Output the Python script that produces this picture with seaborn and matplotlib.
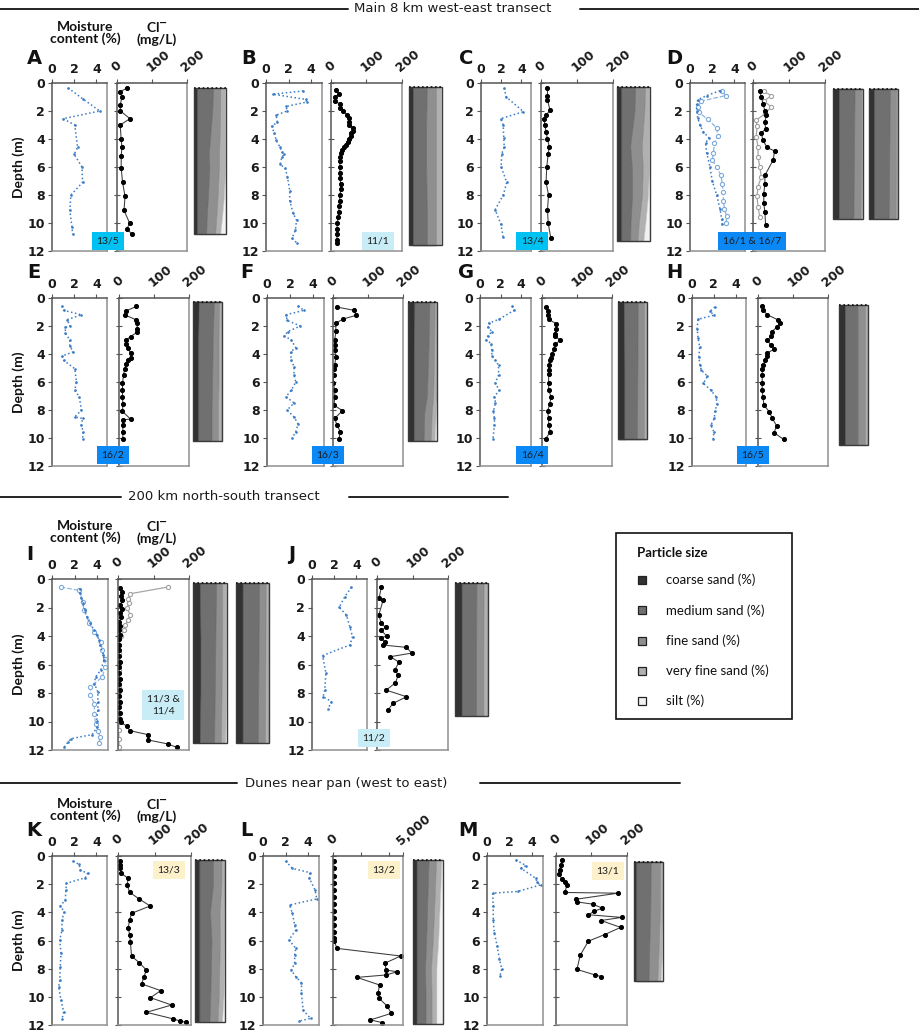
import numpy as np
import matplotlib
matplotlib.use("Agg")
import matplotlib.pyplot as plt
from matplotlib.patches import Rectangle
import seaborn as sns

sns.set_style("ticks")
plt.rcParams["font.family"] = ["DejaVu Sans"]

W, H = 920, 1033

# ------------------------------------------------------------------ data
DEPTH_TICKS = [0, 2, 4, 6, 8, 10, 12]
MOIST_TICKS = [0, 2, 4]
CL_TICKS = [0, 100, 200]
CL_TICKS_L = [0, 2000, 4000, 5000]
CL_TICKLABELS_L = ["0", "", "", "5,000"]

PSIZE_CLASSES = ["coarse sand (%)", "medium sand (%)", "fine sand (%)",
                 "very fine sand (%)", "silt (%)"]
PSIZE_COLORS = ["#323232", "#707070", "#8f8f8f", "#b0b0b0", "#f2f2f2"]
PSIZE_EDGES = ["#2a2a2a", "#5a5a5a", "#747474", "#939393", "#d0d0d0"]

# Panel A (13/5)
A_moist_depth = [0.35, 1.15, 2.0, 2.55, 3.0, 4.6, 5.1, 6.0, 7.1, 8.0, 9.1, 10.3, 10.8]
A_moist = [1.45, 2.8, 4.3, 1.0, 2.05, 2.3, 2.0, 2.7, 2.75, 1.7, 1.6, 1.8, 1.85]
A_cl_depth = [0.36, 0.64, 1.0, 1.6, 2.0, 2.55, 3.0, 4.0, 4.6, 5.2, 6.1, 7.1, 8.1, 9.1, 10.0, 10.4, 10.8]
A_cl = [29, 8, 14, 9, 10, 37, 9, 12, 14, 12, 12, 16, 23, 20, 36, 29, 42]
A_ps_depth = [0.35, 2, 4, 5, 6, 8, 9.5, 10.8]
A_ps = [[10, 50, 22, 15, 3], [10, 47, 25, 15, 3], [10, 40, 30, 17, 3], [10, 36, 32, 19, 3],
        [10, 38, 30, 19, 3], [10, 34, 30, 20, 6], [10, 30, 30, 18, 12], [10, 28, 28, 16, 18]]

# Panel B (11/1)
B_moist_depth = [0.57, 0.8, 1.17, 1.36, 1.67, 2.0, 2.3, 2.8, 3.1, 3.6, 4.1, 4.6, 4.9, 5.1, 5.3,
                 5.8, 6.1, 6.7, 7.7, 8.4, 9.3, 9.8, 10.5, 11.1, 11.4]
B_moist = [3.3, 0.6, 3.5, 3.6, 1.8, 1.85, 0.9, 1.0, 0.5, 0.75, 0.9, 1.25, 1.4, 1.6, 1.4,
           1.25, 1.7, 1.9, 2.1, 2.1, 2.4, 2.7, 2.6, 2.3, 2.7]
B_cl_depth = [0.5, 0.75, 1.0, 1.3, 1.5, 1.8, 2.0, 2.3, 2.5, 2.8, 3.0, 3.2, 3.4, 3.6, 3.8, 4.0,
              4.2, 4.4, 4.6, 4.8, 5.0, 5.3, 5.6, 6.0, 6.4, 6.8, 7.2, 7.6, 8.0, 8.4, 8.8, 9.2,
              9.6, 10.0, 10.4, 10.8, 11.2, 11.4]
B_cl = [13, 22, 12, 11, 26, 24, 33, 45, 50, 52, 52, 62, 62, 55, 55, 50, 48, 42, 36, 30, 28, 26,
        25, 25, 25, 26, 27, 27, 26, 24, 23, 22, 20, 18, 17, 17, 17, 17]
B_ps_depth = [0.3, 3, 6, 9, 11.6]
B_ps = [[12, 42, 28, 15, 3], [12, 40, 30, 15, 3], [12, 40, 30, 15, 3], [12, 42, 28, 15, 3],
        [12, 42, 28, 15, 3]]

# Panel C (13/4)
C_moist_depth = [0.36, 1.0, 2.05, 2.55, 3.0, 3.9, 4.6, 5.05, 6.0, 7.1, 8.0, 9.05, 10.05, 11.0]
C_moist = [2.3, 2.5, 4.2, 1.95, 2.2, 2.25, 2.3, 2.05, 2.0, 2.55, 2.2, 1.4, 1.95, 2.2]
C_cl_depth = [0.36, 0.9, 1.2, 1.95, 2.3, 2.55, 3.0, 3.5, 4.0, 4.55, 5.05, 6.0, 7.1, 8.0, 9.05, 10.0, 11.05]
C_cl = [18, 18, 18, 25, 14, 8, 11, 14, 18, 23, 20, 16, 14, 21, 18, 20, 27]
C_ps_depth = [0.3, 2, 4.5, 6, 8, 10, 11.3]
C_ps = [[13, 42, 30, 13, 2], [13, 40, 30, 15, 2], [13, 27, 35, 22, 3], [13, 32, 33, 19, 3],
        [13, 33, 30, 18, 6], [13, 28, 25, 20, 14], [13, 27, 22, 18, 20]]

# Panel D (16/1 & 16/7)
D_moist1_depth = [0.55, 0.9, 1.2, 1.5, 2.0, 2.5, 3.0, 3.5, 3.9, 4.3, 5.0, 6.0, 7.0, 8.0, 9.0, 9.7, 10.1]
D_moist1 = [2.7, 1.5, 0.7, 0.6, 0.6, 0.7, 0.9, 1.2, 1.7, 1.4, 1.5, 1.8, 2.0, 2.4, 2.7, 2.85, 2.9]
D_moist2_depth = [0.6, 0.9, 1.3, 1.7, 2.1, 2.6, 3.2, 3.8, 4.3, 5.0, 5.5, 6.0, 6.6, 7.2, 7.8, 8.4,
                  9.0, 9.5, 10.0]
D_moist2 = [2.9, 3.2, 1.0, 0.7, 0.8, 1.6, 2.4, 2.5, 2.2, 2.1, 2.0, 2.4, 2.8, 2.9, 3.0, 3.0, 3.1, 3.3, 3.25]
D_cl1_depth = [0.57, 1.0, 1.5, 2.0, 2.3, 2.8, 3.25, 3.6, 4.1, 4.6, 4.86, 5.5, 6.6, 7.2, 7.9, 8.6, 9.2, 10.15]
D_cl1 = [19, 23, 28, 33, 37, 33, 35, 23, 28, 39, 60, 56, 33, 33, 30, 30, 33, 35]
D_cl2_depth = [0.6, 0.9, 1.3, 1.7, 2.2, 2.65, 3.1, 3.85, 4.6, 5.3, 6.0, 6.7, 7.4, 8.1, 8.85, 9.6]
D_cl2 = [30, 51, 30, 51, 33, 9, 11, 9, 14, 14, 19, 23, 14, 11, 14, 19]
D1_ps_depth = [0.4, 5, 9.7]
D1_ps = [[20, 52, 22, 5, 1], [20, 50, 24, 5, 1], [20, 48, 24, 6, 2]]
D2_ps_depth = [0.4, 5, 9.7]
D2_ps = [[18, 54, 22, 5, 1], [18, 52, 23, 6, 1], [18, 50, 24, 7, 1]]

# Panel E (16/2)
E_moist_depth = [0.57, 0.88, 1.2, 1.55, 2.0, 2.1, 2.5, 3.0, 3.4, 3.85, 4.15, 4.45, 5.05, 6.0, 6.6,
                 7.05, 8.0, 8.5, 8.6, 9.05, 9.55, 10.1]
E_moist = [0.9, 1.05, 2.65, 1.35, 1.65, 1.2, 1.2, 1.6, 1.6, 1.9, 0.9, 1.05, 2.05, 2.2, 2.05,
           2.45, 2.65, 2.05, 2.75, 2.65, 2.8, 2.75]
E_cl_depth = [0.6, 0.93, 1.2, 1.55, 1.8, 2.2, 2.45, 2.75, 3.0, 3.3, 3.6, 3.95, 4.25, 4.45, 4.7,
              5.1, 5.5, 6.1, 6.6, 7.05, 7.55, 8.1, 8.65, 8.7, 9.1, 9.6, 10.1]
E_cl = [50, 19, 16, 48, 52, 52, 52, 33, 21, 19, 26, 33, 33, 26, 21, 16, 13, 10, 10, 10, 11, 10,
        33, 11, 11, 11, 11]
E_ps_depth = [0.25, 3, 6, 8, 10.2]
E_ps = [[20, 52, 18, 9, 1], [18, 50, 20, 11, 1], [18, 48, 22, 11, 1], [18, 46, 22, 13, 1],
        [18, 46, 22, 13, 1]]

# Panel F (16/3)
F_moist_depth = [0.57, 0.88, 1.2, 1.6, 2.0, 2.4, 2.7, 3.0, 3.55, 3.85, 4.45, 4.9, 5.5, 6.0, 6.6,
                 7.05, 7.5, 8.0, 8.5, 9.0, 9.55, 10.0]
F_moist = [2.7, 3.2, 1.65, 1.75, 2.9, 1.8, 1.5, 2.1, 2.5, 2.05, 2.1, 2.35, 2.35, 2.5, 2.1, 1.65,
           2.35, 1.75, 2.35, 2.7, 2.5, 2.2]
F_cl_depth = [0.64, 0.88, 1.23, 1.5, 1.8, 2.37, 3.0, 3.37, 3.73, 4.2, 4.8, 5.1, 5.5, 6.1, 6.6,
              7.05, 7.65, 8.05, 8.6, 9.07, 9.55, 10.07]
F_cl = [10, 60, 67, 29, 8, 8, 5, 5, 5, 8, 5, 2, 2, 1, 5, 5, 3, 27, 5, 11, 21, 17]
F_ps_depth = [0.3, 4, 7, 8.2, 10.2]
F_ps = [[22, 52, 18, 7, 1], [20, 50, 20, 9, 1], [20, 45, 22, 12, 1], [20, 36, 26, 14, 4],
        [20, 34, 24, 14, 8]]

# Panel G (16/4)
G_moist_depth = [0.57, 0.88, 1.52, 1.8, 2.1, 2.4, 2.7, 3.0, 3.25, 3.73, 4.15, 4.45, 4.8, 5.5,
                 6.05, 6.6, 7.05, 7.5, 8.1, 8.6, 9.07, 10.1]
G_moist = [3.15, 3.3, 1.85, 0.85, 0.77, 1.15, 0.77, 0.6, 1.08, 1.15, 1.15, 1.5, 1.8, 1.8, 1.5,
           1.85, 1.4, 1.5, 1.3, 1.4, 1.4, 1.25]
G_cl_depth = [0.64, 0.93, 1.23, 1.52, 1.83, 2.18, 2.54, 2.73, 3.02, 3.3, 3.61, 3.97, 4.25, 4.44,
              4.8, 5.15, 5.44, 6.1, 6.58, 7.05, 7.58, 8.08, 8.6, 9.07, 9.55, 10.07]
G_cl = [10, 16, 16, 19, 40, 41, 38, 38, 52, 38, 35, 29, 26, 22, 19, 19, 19, 19, 19, 26, 22, 16,
        19, 19, 24, 10]
G_ps_depth = [0.3, 5, 10.1]
G_ps = [[20, 48, 22, 9, 1], [22, 45, 23, 9, 1], [22, 43, 24, 10, 1]]

# Panel H (16/5)
H_moist_depth = [0.64, 0.95, 1.23, 1.52, 2.18, 2.83, 3.49, 4.2, 4.8, 5.15, 5.58, 6.1, 6.58, 7.05,
                 7.58, 8.08, 8.6, 9.07, 9.55, 10.07]
H_moist = [2.1, 1.67, 2.0, 0.55, 0.47, 0.55, 0.7, 0.63, 0.73, 0.85, 1.42, 1.04, 1.73, 2.2, 2.3,
           2.1, 2.05, 1.73, 2.0, 1.95]
H_cl_depth = [0.6, 0.88, 1.2, 1.55, 1.8, 2.1, 2.42, 2.73, 3.02, 3.37, 3.66, 3.92, 4.16, 4.44, 4.8,
              5.1, 5.5, 6.1, 6.58, 7.05, 7.65, 8.12, 8.6, 9.12, 9.62, 10.1]
H_cl = [11, 14, 27, 56, 62, 53, 39, 37, 27, 37, 46, 27, 27, 20, 15, 12, 12, 12, 12, 14, 17, 32,
        41, 53, 46, 73]
H_ps_depth = [0.5, 5, 10.5]
H_ps = [[20, 44, 26, 9, 1], [20, 44, 26, 9, 1], [20, 44, 25, 10, 1]]

# Panel I (11/3 & 11/4)
I_moist1_depth = [0.68, 0.99, 1.34, 1.7, 2.16, 2.64, 3.1, 3.58, 3.93, 4.28, 4.64, 5.34, 5.7, 6.4,
                  6.87, 7.34, 7.93, 8.64, 9.22, 9.93, 10.4, 10.92, 11.2, 11.46, 11.81]
I_moist1 = [2.5, 2.45, 2.6, 2.7, 2.9, 3.1, 3.4, 3.7, 4.0, 4.15, 4.25, 4.55, 4.6, 4.3, 3.85, 3.75,
            4.05, 4.05, 4.05, 3.95, 4.0, 3.55, 1.7, 1.4, 1.08]
I_moist2_depth = [0.56, 0.8, 1.58, 2.16, 3.1, 3.7, 4.4, 5.0, 5.58, 6.16, 6.87, 7.58, 8.16, 8.75,
                  9.46, 10.16, 10.64, 11.1, 11.53]
I_moist2 = [0.77, 2.4, 2.75, 2.8, 3.3, 3.7, 4.3, 4.45, 4.7, 4.7, 4.45, 3.4, 3.4, 3.75, 3.75, 3.85,
            4.05, 4.25, 4.15]
I_cl1_depth = [0.6, 0.9, 1.2, 1.5, 1.8, 2.1, 2.4, 2.7, 3.0, 3.3, 3.6, 3.9, 4.2, 4.6, 5.0, 5.4, 5.8,
               6.2, 6.6, 7.0, 7.4, 7.8, 8.2, 8.6, 9.0, 9.4, 9.8, 10.05, 10.33, 10.64, 10.92, 11.29,
               11.58, 11.81]
I_cl1 = [6, 10, 8, 12, 7, 10, 5, 8, 4, 6, 3, 5, 3, 4, 3, 4, 5, 3, 4, 5, 4, 6, 4, 5, 4, 5, 6, 8, 25,
         33, 84, 84, 141, 165]
I_cl2_depth = [0.56, 1.04, 1.4, 1.7, 2.05, 2.52, 2.9, 3.22, 3.58, 4.0, 4.6, 5.2, 5.8, 6.4, 7.0,
               7.6, 8.2, 8.8, 9.4, 10.0, 10.6, 11.2, 11.8]
I_cl2 = [141, 33, 28, 31, 25, 35, 28, 21, 18, 8, 4, 3, 3, 2, 3, 2, 3, 2, 3, 3, 2, 3, 3]
I1_ps_depth = [0.3, 4, 8, 11.5]
I1_ps = [[20, 48, 18, 12, 2], [22, 44, 20, 12, 2], [22, 42, 20, 13, 3], [20, 42, 20, 13, 5]]
I2_ps_depth = [0.3, 6, 11.5]
I2_ps = [[20, 50, 20, 9, 1], [20, 48, 21, 10, 1], [20, 46, 22, 11, 1]]

# Panel J (11/2)
J_moist_depth = [0.58, 1.24, 1.99, 2.53, 3.35, 4.05, 4.63, 5.38, 6.6, 7.8, 8.26, 8.6, 9.1]
J_moist = [3.55, 2.95, 2.45, 3.1, 3.4, 3.65, 3.4, 0.95, 1.25, 1.15, 1.0, 1.75, 1.45]
J_cl_depth = [0.58, 1.35, 1.5, 2.53, 3.1, 3.4, 3.6, 4.0, 4.12, 4.4, 4.63, 4.8, 5.2, 5.45, 5.84,
              6.38, 6.74, 7.28, 7.8, 8.26, 8.73, 9.2]
J_cl = [12, 6, 17, 5, 12, 24, 12, 27, 12, 22, 16, 83, 98, 38, 62, 50, 60, 52, 26, 83, 45, 31]
J_ps_depth = [0.3, 5, 9.6]
J_ps = [[20, 45, 22, 12, 1], [20, 44, 22, 13, 1], [20, 44, 22, 13, 1]]

# Panel K (13/3)
K_moist_depth = [0.36, 0.6, 1.0, 1.23, 1.54, 1.94, 2.41, 3.12, 3.55, 3.95, 4.54, 5.25, 5.96, 6.9,
                 7.86, 8.8, 9.28, 10.2, 11.05, 11.6]
K_moist = [1.9, 2.45, 2.55, 3.2, 3.0, 1.3, 1.25, 1.2, 0.75, 1.1, 0.9, 0.9, 0.7, 0.8, 0.75, 0.7,
           0.6, 0.8, 1.05, 0.9]
K_cl_depth = [0.36, 0.64, 0.88, 1.23, 1.59, 2.06, 2.58, 3.05, 3.55, 4.07, 4.54, 5.09, 5.6, 6.08,
              7.1, 7.57, 8.1, 8.57, 9.08, 9.56, 10.06, 10.58, 11.1, 11.57, 11.72, 11.81]
K_cl = [6, 6, 5, 9, 28, 25, 32, 58, 88, 37, 32, 28, 32, 34, 37, 58, 78, 71, 65, 117, 89, 147, 78,
        152, 170, 187]
K_ps_depth = [0.3, 2, 4, 6, 8, 10, 11.8]
K_ps = [[15, 45, 28, 11, 1], [15, 45, 28, 11, 1], [15, 35, 32, 16, 2], [15, 40, 28, 15, 2],
        [15, 38, 28, 16, 3], [15, 36, 28, 16, 5], [15, 33, 27, 15, 10]]

# Panel L (13/2)
L_moist_depth = [0.36, 0.88, 1.18, 1.59, 2.41, 3.05, 3.48, 4.07, 4.9, 5.25, 5.96, 6.56, 7.03, 7.62,
                 8.1, 8.57, 9.0, 9.75, 10.94, 11.53, 11.72]
L_moist = [2.0, 2.6, 4.15, 4.1, 4.6, 4.75, 2.35, 2.6, 2.8, 2.9, 2.3, 2.9, 2.8, 2.8, 2.5, 2.9, 3.4,
           3.4, 3.55, 4.2, 3.2]
L_cl_depth = [0.36, 0.88, 1.4, 1.9, 2.4, 2.9, 3.4, 3.9, 4.4, 4.9, 5.4, 5.8, 6.0, 6.56, 7.1, 7.62,
              8.1, 8.22, 8.45, 8.62, 9.16, 9.75, 10.1, 10.65, 11.17, 11.64, 11.83]
L_cl = [60, 60, 55, 60, 60, 55, 60, 60, 60, 65, 70, 70, 60, 290, 4830, 3690, 3810, 4600, 3760,
        1710, 3330, 3210, 3290, 3860, 4170, 2670, 3520]
L_ps_depth = [0.3, 3, 6, 8, 10, 11.9]
L_ps = [[12, 40, 25, 18, 5], [12, 36, 24, 18, 10], [12, 32, 22, 18, 16], [12, 28, 20, 18, 22],
        [12, 30, 20, 16, 22], [12, 30, 20, 16, 22]]

# Panel M (13/1)
M_moist_depth = [0.28, 0.68, 0.87, 1.58, 1.88, 2.05, 2.52, 2.64, 3.58, 4.52, 5.46, 6.4, 7.34, 8.0, 8.52]
M_moist = [2.55, 3.45, 3.0, 4.3, 4.45, 4.75, 2.7, 0.5, 0.55, 0.55, 0.65, 0.9, 1.1, 1.3, 1.15]
M_cl_depth = [0.28, 0.64, 0.99, 1.27, 1.62, 1.88, 2.05, 2.59, 2.64, 3.07, 3.26, 3.42, 3.7, 3.94,
              4.17, 4.36, 4.58, 5.07, 5.58, 6.05, 7.06, 8.05, 8.45, 8.56]
M_cl = [16, 14, 10, 9, 16, 24, 31, 25, 174, 57, 59, 104, 130, 107, 91, 185, 127, 182, 137, 91, 68,
        59, 110, 128]
M_ps_depth = [0.4, 4, 7, 8.9]
M_ps = [[8, 50, 32, 9, 1], [8, 48, 33, 10, 1], [8, 44, 32, 12, 4], [8, 42, 30, 12, 8]]

# ------------------------------------------------------------------ styles
MOIST_STYLE = {
    "p": dict(color="#3b7cc4", linestyle=":", linewidth=1.1, marker="o", markersize=1.9,
              markeredgewidth=0),
    "s": dict(color="#8db6e2", linestyle="--", linewidth=0.9, marker="o", markersize=3.0,
              markerfacecolor="white", markeredgecolor="#7eaadb", markeredgewidth=0.8),
}
CL_STYLE = {
    "p": dict(color="#3a3a3a", linestyle="-", linewidth=0.75, marker="o", markersize=2.9,
              markerfacecolor="black", markeredgecolor="black"),
    "s": dict(color="#a6a6a6", linestyle="-", linewidth=0.9, marker="o", markersize=3.0,
              markerfacecolor="white", markeredgecolor="#a0a0a0", markeredgewidth=0.8),
}
TICK_FONT = dict(fontsize=9, fontweight="bold", family="DejaVu Sans", color="#1a1a1a")

fig = plt.figure(figsize=(W / 100, H / 100), dpi=100)


def px_axes(x0, x1, y0, y1):
    return fig.add_axes([x0 / W, 1 - y1 / H, (x1 - x0) / W, (y1 - y0) / H])


def frame(ax):
    for s in ["left", "top"]:
        ax.spines[s].set_color("#555555")
    for s in ["right", "bottom"]:
        ax.spines[s].set_color("#909090")
    for s in ax.spines.values():
        s.set_visible(True)
        s.set_linewidth(1.1)


def draw_moist(ax, series):
    for depth, vals, kind in series:
        sns.lineplot(x=vals, y=depth, sort=False, estimator=None, ax=ax, **MOIST_STYLE[kind])
    ax.set_xlim(0, 4.95)
    ax.set_ylim(12, 0)
    ax.xaxis.tick_top()
    ax.set_xticks(MOIST_TICKS)
    ax.set_xticklabels([str(t) for t in MOIST_TICKS], **TICK_FONT)
    ax.set_yticks(DEPTH_TICKS)
    ax.set_yticklabels([str(t) for t in DEPTH_TICKS], **TICK_FONT)
    ax.tick_params(axis="x", direction="out", length=3, pad=2, top=True, bottom=False,
                   color="#555555")
    ax.tick_params(axis="y", direction="out", length=3, pad=2, left=True, color="#555555")
    ax.set_xlabel("")
    ax.set_ylabel("")
    frame(ax)


def draw_cl(ax, series, xmax=200, ticks=CL_TICKS, labels=None):
    for depth, vals, kind in series:
        sns.lineplot(x=vals, y=depth, sort=False, estimator=None, ax=ax, **CL_STYLE[kind])
    ax.set_xlim(0, xmax)
    ax.set_ylim(12, 0)
    ax.xaxis.tick_top()
    ax.set_xticks(ticks)
    if labels is None:
        labels = [str(t) for t in ticks]
    ax.set_xticklabels(labels, rotation=40, ha="left", va="bottom", rotation_mode="anchor",
                       **TICK_FONT)
    ax.set_yticks(DEPTH_TICKS)
    ax.set_yticklabels([])
    ax.tick_params(axis="x", direction="out", length=3, pad=3, top=True, bottom=False,
                   color="#555555")
    ax.tick_params(axis="y", direction="inout", length=5, left=True, color="#555555")
    ax.set_xlabel("")
    ax.set_ylabel("")
    frame(ax)


def draw_strip(ax, depth, rows):
    arr = np.array(rows, float)
    arr = arr / arr.sum(axis=1, keepdims=True) * 100
    cum = np.cumsum(arr, axis=1)
    left = np.zeros(len(depth))
    for k in range(len(PSIZE_CLASSES)):
        ax.fill_betweenx(depth, left, cum[:, k], facecolor=PSIZE_COLORS[k],
                         edgecolor=PSIZE_EDGES[k], linewidth=0.5)
        left = cum[:, k]
    ax.set_xlim(0, 100)
    ax.set_ylim(12, 0)
    ax.axis("off")
    ax.add_patch(Rectangle((0, depth[0]), 100, depth[-1] - depth[0], fill=False,
                           edgecolor="#3a3a3a", linewidth=1.0, clip_on=False))
    ax.plot([0, 100], [depth[0], depth[0]], color="#111111", linewidth=1.2,
            linestyle=(0, (1, 1.6)), clip_on=False)


# ------------------------------------------------------------------ panels (layout in px)
ROW1, ROW2, ROW3, ROW4 = (83, 251), (298, 466), (579, 750), (856, 1025)

panels = [
    dict(row=ROW1, m=(52, 107), c=(117, 187),
         moist=[(A_moist_depth, A_moist, "p")], cl=[(A_cl_depth, A_cl, "p")],
         strips=[((194, 226), A_ps_depth, A_ps)]),
    dict(row=ROW1, m=(266, 322), c=(331, 402),
         moist=[(B_moist_depth, B_moist, "p")], cl=[(B_cl_depth, B_cl, "p")],
         strips=[((409, 442), B_ps_depth, B_ps)]),
    dict(row=ROW1, m=(481, 531), c=(541, 613),
         moist=[(C_moist_depth, C_moist, "p")], cl=[(C_cl_depth, C_cl, "p")],
         strips=[((617, 650), C_ps_depth, C_ps)]),
    dict(row=ROW1, m=(690, 745), c=(753, 825),
         moist=[(D_moist2_depth, D_moist2, "s"), (D_moist1_depth, D_moist1, "p")],
         cl=[(D_cl2_depth, D_cl2, "s"), (D_cl1_depth, D_cl1, "p")],
         strips=[((833, 863), D1_ps_depth, D1_ps), ((869, 898), D2_ps_depth, D2_ps)]),
    dict(row=ROW2, m=(52, 107), c=(119, 189),
         moist=[(E_moist_depth, E_moist, "p")], cl=[(E_cl_depth, E_cl, "p")],
         strips=[((193, 222), E_ps_depth, E_ps)]),
    dict(row=ROW2, m=(267, 324), c=(333, 403),
         moist=[(F_moist_depth, F_moist, "p")], cl=[(F_cl_depth, F_cl, "p")],
         strips=[((408, 437), F_ps_depth, F_ps)]),
    dict(row=ROW2, m=(480, 531), c=(542, 612),
         moist=[(G_moist_depth, G_moist, "p")], cl=[(G_cl_depth, G_cl, "p")],
         strips=[((618, 647), G_ps_depth, G_ps)]),
    dict(row=ROW2, m=(692, 746), c=(758, 828),
         moist=[(H_moist_depth, H_moist, "p")], cl=[(H_cl_depth, H_cl, "p")],
         strips=[((839, 868), H_ps_depth, H_ps)]),
    dict(row=ROW3, m=(52, 108), c=(118, 189),
         moist=[(I_moist2_depth, I_moist2, "s"), (I_moist1_depth, I_moist1, "p")],
         cl=[(I_cl2_depth, I_cl2, "s"), (I_cl1_depth, I_cl1, "p")],
         strips=[((193, 227), I1_ps_depth, I1_ps), ((236, 269), I2_ps_depth, I2_ps)]),
    dict(row=ROW3, m=(312, 367), c=(377, 448),
         moist=[(J_moist_depth, J_moist, "p")], cl=[(J_cl_depth, J_cl, "p")],
         strips=[((455, 488), J_ps_depth, J_ps)]),
    dict(row=ROW4, m=(52, 107), c=(118, 191),
         moist=[(K_moist_depth, K_moist, "p")], cl=[(K_cl_depth, K_cl, "p")],
         strips=[((195, 225), K_ps_depth, K_ps)]),
    dict(row=ROW4, m=(263, 319), c=(333, 403),
         moist=[(L_moist_depth, L_moist, "p")], cl=[(L_cl_depth, L_cl, "p")],
         strips=[((413, 443), L_ps_depth, L_ps)], xmax=5000, ticks=CL_TICKS_L,
         labels=CL_TICKLABELS_L),
    dict(row=ROW4, m=(487, 543), c=(556, 627),
         moist=[(M_moist_depth, M_moist, "p")], cl=[(M_cl_depth, M_cl, "p")],
         strips=[((634, 663), M_ps_depth, M_ps)]),
]

for p in panels:
    y0, y1 = p["row"]
    axm = px_axes(p["m"][0], p["m"][1], y0, y1)
    draw_moist(axm, p["moist"])
    axc = px_axes(p["c"][0], p["c"][1], y0, y1)
    draw_cl(axc, p["cl"], p.get("xmax", 200), p.get("ticks", CL_TICKS), p.get("labels"))
    for (sx0, sx1), sd, sr in p["strips"]:
        axs = px_axes(sx0, sx1, y0, y1)
        draw_strip(axs, sd, sr)

# ------------------------------------------------------------------ annotation overlay
ov = fig.add_axes([0, 0, 1, 1])
ov.set_xlim(0, W)
ov.set_ylim(H, 0)
ov.axis("off")
ov.patch.set_alpha(0)

LINE_KW = dict(color="#222222", linewidth=1.4)
SEC_FONT = dict(fontsize=9.5, family="DejaVu Sans", color="#1a1a1a", va="center", ha="left")
ov.plot([0, 348], [9, 9], **LINE_KW)
ov.plot([580, 920], [9, 9], **LINE_KW)
ov.text(354, 9, "Main 8 km west-east transect", **SEC_FONT)
ov.plot([0, 121], [497, 497], **LINE_KW)
ov.plot([349, 508], [497, 497], **LINE_KW)
ov.text(128, 497, "200 km north-south transect", **SEC_FONT)
ov.plot([0, 237], [783, 783], **LINE_KW)
ov.plot([480, 680], [783, 783], **LINE_KW)
ov.text(245, 783, "Dunes near pan (west to east)", **SEC_FONT)

HEAD_FONT = dict(fontsize=10, family="Lato", fontweight="bold", ha="center", va="center",
                 linespacing=1.0, color="#111111")
for hy in (33, 532, 810):
    ov.text(85, hy, "Moisture\ncontent (%)", **HEAD_FONT)
    ov.text(157, hy, "Cl$^{\\mathbf{-}}$\n(mg/L)", **HEAD_FONT)

for dy in (167, 382, 664, 940):
    ov.text(19, dy, "Depth (m)", rotation=90, **HEAD_FONT)

LETTER_FONT = dict(fontsize=14, family="DejaVu Sans", fontweight="bold", ha="center",
                   va="center", color="#111111")
letters = [("A", 34, 59), ("B", 249, 59), ("C", 466, 59), ("D", 674, 59),
           ("E", 34, 272), ("F", 247, 272), ("G", 466, 272), ("H", 674, 272),
           ("I", 30, 555), ("J", 292, 555), ("K", 34, 830), ("L", 246, 830), ("M", 468, 830)]
for t, x, y in letters:
    ov.text(x, y, t, **LETTER_FONT)

TAG_FONT = dict(fontsize=7.5, family="Lato", ha="center", va="center", color="#1a1a1a",
                linespacing=1.4)
CYAN, PALE, BLUE, YELLOW = "#00c2f2", "#c9edf6", "#0a88f5", "#fdf1cc"
tags = [("13/5", 108, 241, CYAN), ("11/1", 378, 241, PALE), ("13/4", 532, 241, CYAN),
        ("16/1 & 16/7", 752, 241, BLUE), ("16/2", 113, 455, BLUE), ("16/3", 328, 455, BLUE),
        ("16/4", 532, 455, BLUE), ("16/5", 753, 455, BLUE), ("11/3 &\n11/4", 163, 705, PALE),
        ("11/2", 374, 738, PALE), ("13/3", 169, 870, YELLOW), ("13/2", 384, 870, YELLOW),
        ("13/1", 608, 871, YELLOW)]
for t, x, y, c in tags:
    ov.text(x, y, t, bbox=dict(boxstyle="square,pad=0.45", facecolor=c, edgecolor="none"),
            zorder=5, **TAG_FONT)

# legend box
ov.add_patch(Rectangle((616, 533), 176, 186, fill=False, edgecolor="#111111", linewidth=1.2))
ov.text(637, 553, "Particle size", fontsize=9.5, family="Lato", fontweight="bold",
        ha="left", va="center", color="#111111")
for k, lab in enumerate(PSIZE_CLASSES):
    yy = 580 + k * 30.3
    ov.add_patch(Rectangle((638, yy - 4), 8, 8, facecolor=PSIZE_COLORS[k],
                           edgecolor="#222222", linewidth=0.9))
    ov.text(666, yy, lab, fontsize=9.5, family="Lato", ha="left", va="center", color="#111111")

fig.savefig("out.png", dpi=100)
